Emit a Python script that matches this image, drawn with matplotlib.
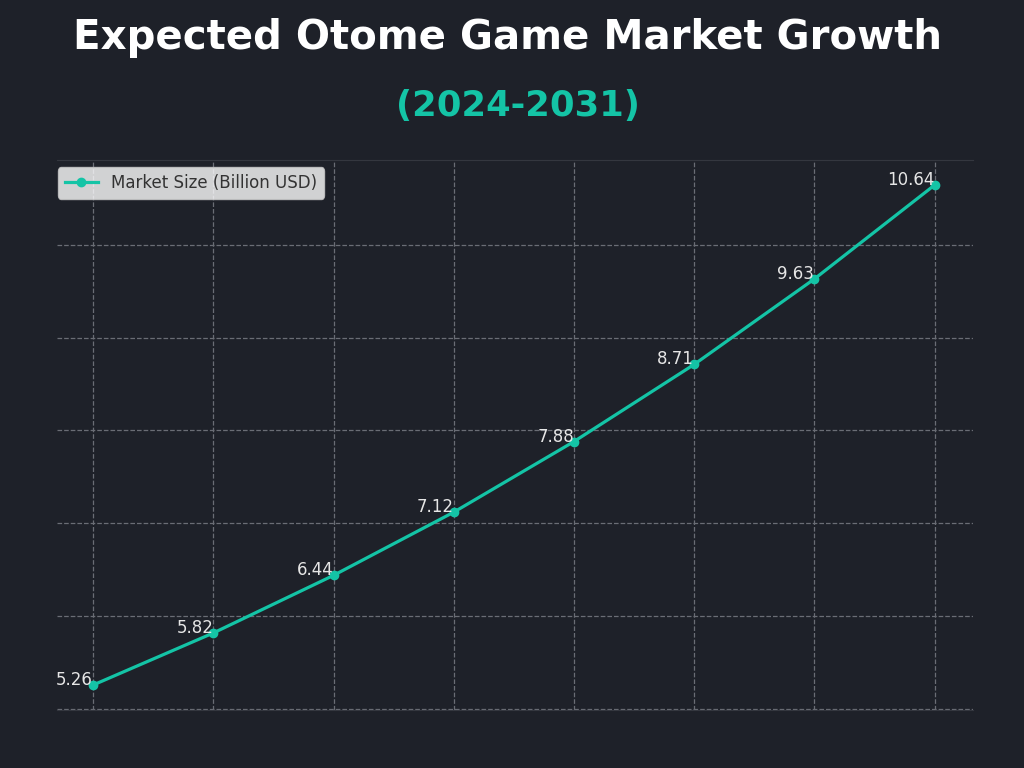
import matplotlib
matplotlib.use("Agg")
import matplotlib.pyplot as plt

# data
years = [2024, 2025, 2026, 2027, 2028, 2029, 2030, 2031]
market_size = [5.26, 5.82, 6.44, 7.12, 7.88, 8.71, 9.63, 10.64]
series_label = "Market Size (Billion USD)"
title = "Expected Otome Game Market Growth"
subtitle = "(2024-2031)"

bg = "#1e2129"
teal = "#14c4a6"

fig = plt.figure(figsize=(10.24, 7.68), dpi=100, facecolor=bg)
ax = fig.add_axes([0.0557, 0.0755, 0.8945, 0.716])
ax.set_facecolor(bg)

ax.plot(years, market_size, color=teal, lw=2.3, marker="o", ms=6,
        label=series_label)
for x, y in zip(years, market_size):
  ax.annotate(f"{y:.2f}", (x, y), xytext=(0, 0), textcoords="offset points",
              ha="right", va="baseline", fontsize=12, color="#e6e6e6")

ax.set_xlim(2023.7, 2031.32)
ax.margins(y=0.05)
ax.set_xticks(years)
ax.set_yticks(range(5, 11))
ax.tick_params(length=0, labelbottom=False, labelleft=False)
ax.grid(True, ls="--", color="#6a6d75", lw=0.9)

for side in ["left", "right"]:
  ax.spines[side].set_visible(False)
for side in ["top", "bottom"]:
  ax.spines[side].set_color("#34373f")
  ax.spines[side].set_linewidth(0.8)

leg = ax.legend(loc="upper left", bbox_to_anchor=(0.001, 0.987),
                borderaxespad=0, fontsize=12, framealpha=0.8,
                handlelength=2.0)
for t in leg.get_texts():
  t.set_color("#333333")

fig.text(0.496, 0.951, title, ha="center", va="center", fontsize=29,
         fontweight="bold", family="DejaVu Sans", color="white")
fig.text(0.506, 0.862, subtitle, ha="center", va="center", fontsize=25.5,
         fontweight="bold", family="DejaVu Sans", color=teal)

fig.savefig("out.png", dpi=100, facecolor=bg)
